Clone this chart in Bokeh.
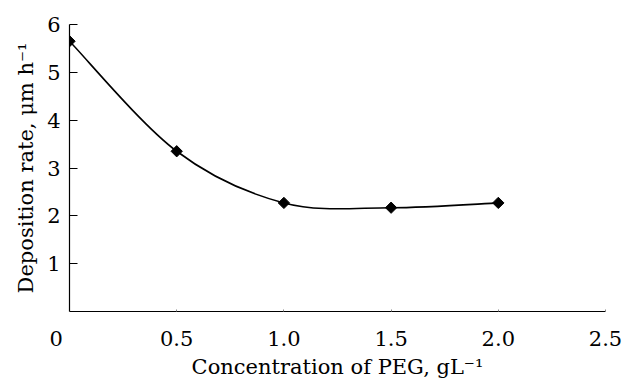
import numpy as np
from bokeh.plotting import figure
from bokeh.models import Range1d, FixedTicker
from bokeh.embed import file_html
from bokeh.resources import INLINE

# Data
conc = [0.0, 0.5, 1.0, 1.5, 2.0]
rate = [5.65, 3.35, 2.27, 2.17, 2.27]
x_ticks = [0, 0.5, 1.0, 1.5, 2.0, 2.5]
x_tick_labels = ["0", "0.5", "1.0", "1.5", "2.0", "2.5"]
y_ticks = [1, 2, 3, 4, 5, 6]

FONT = "DejaVu Serif"
FS = "21px"

p = figure(width=623, height=382, output_backend="svg", toolbar_location=None,
           x_range=Range1d(0, 2.5), y_range=Range1d(0, 6),
           min_border_left=69, min_border_right=18, min_border_top=24, min_border_bottom=71)
p.outline_line_color = None
p.grid.visible = False
p.background_fill_color = "white"

# smooth curve (Catmull-Rom style bezier through the points)
x = np.array(conc)
y = np.array(rate)
xp = np.concatenate([[x[0]], x, [x[-1]]])
yp = np.concatenate([[y[0]], y, [y[-1]]])
n = len(x)
cx0 = x[:-1] + (xp[2:n + 1] - xp[0:n - 1]) / 6.0
cy0 = y[:-1] + (yp[2:n + 1] - yp[0:n - 1]) / 6.0
cx1 = x[1:] - (xp[3:n + 2] - xp[1:n]) / 6.0
cy1 = y[1:] - (yp[3:n + 2] - yp[1:n]) / 6.0
p.bezier(x0=x[:-1], y0=y[:-1], x1=x[1:], y1=y[1:], cx0=cx0, cy0=cy0, cx1=cx1, cy1=cy1,
         line_color="black", line_width=1.6)

p.scatter(conc, rate, marker="square", angle=np.pi / 4, size=8, color="black")

# axes
for ax in (p.xaxis[0], p.yaxis[0]):
    ax.axis_line_color = "black"
    ax.axis_line_width = 1.2
    ax.major_tick_out = 0
    ax.minor_tick_line_color = None
    ax.major_label_text_font = FONT
    ax.major_label_text_font_size = FS
    ax.major_label_text_color = "black"
    ax.axis_label_text_font = FONT
    ax.axis_label_text_font_size = FS
    ax.axis_label_text_font_style = "normal"
    ax.axis_label_text_color = "black"

labels = dict(zip(x_ticks, x_tick_labels))
labels[0] = x_tick_labels[0] + "\u00a0" * 4
p.xaxis.ticker = FixedTicker(ticks=x_ticks)
p.xaxis.major_label_overrides = labels
p.xaxis.major_tick_in = 2
p.xaxis.major_tick_line_color = "#888888"
p.xaxis.major_label_standoff = 15
p.xaxis.axis_label = "Concentration of PEG, gL\u207b\u00b9"
p.xaxis.axis_label_standoff = 1

p.yaxis.ticker = FixedTicker(ticks=y_ticks)
p.yaxis.major_tick_in = 8
p.yaxis.major_tick_line_color = "black"
p.yaxis.major_label_standoff = 9
p.yaxis.axis_label = "Deposition rate, \u03bcm h\u207b\u00b9"
p.yaxis.axis_label_standoff = 6

open("out.html", "w").write(file_html(p, INLINE))
